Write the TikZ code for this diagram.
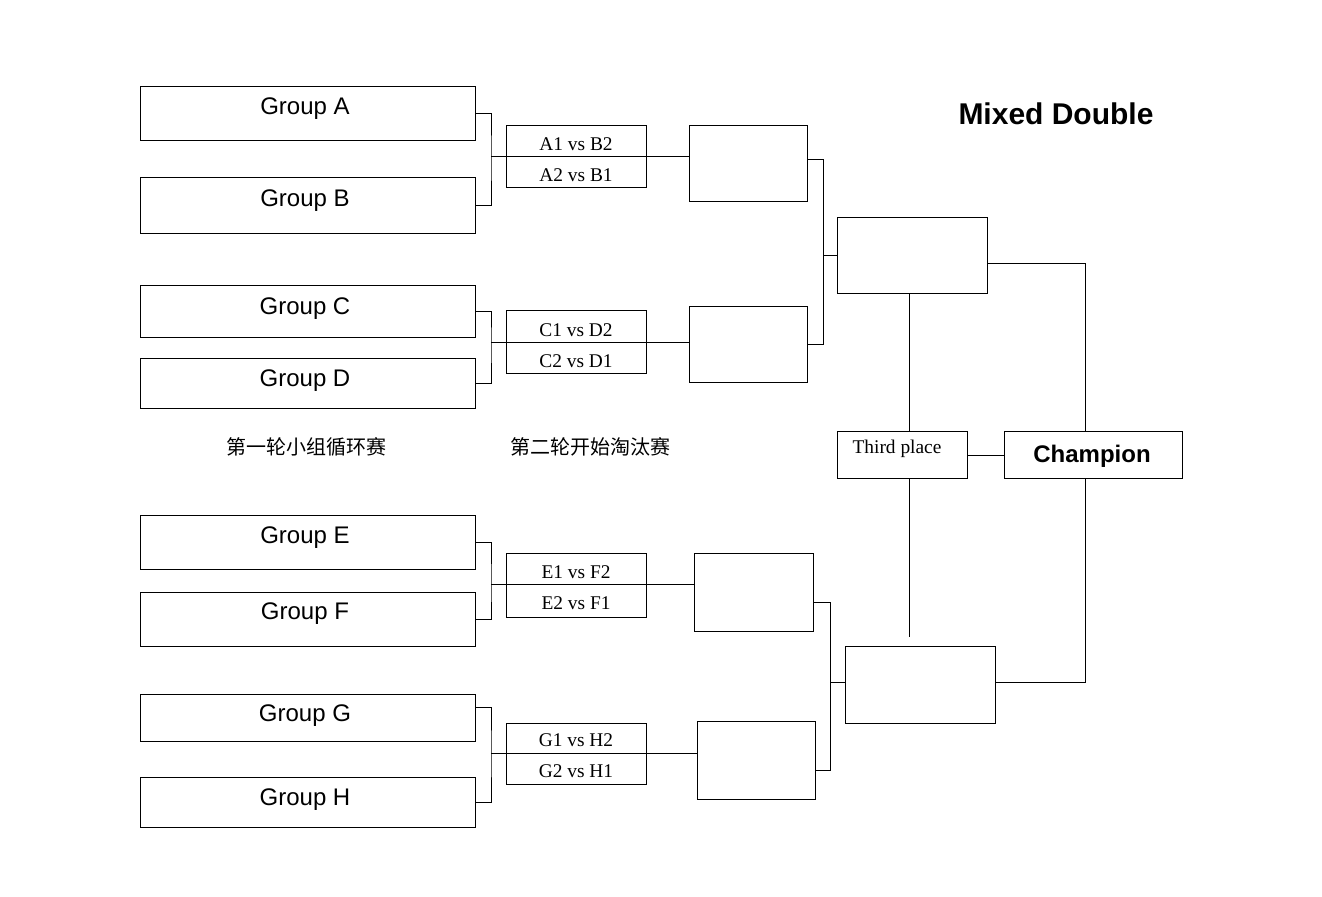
\documentclass[tikz,border=0pt]{standalone}
\usepackage{fontspec}
\setmainfont{Liberation Serif}
\setsansfont{Liberation Sans}
\newfontfamily\cjk{Noto Sans CJK SC}
\usetikzlibrary{fit}
\tikzset{
  box/.style={draw, inner sep=0pt},
  grptxt/.style={font=\sffamily\fontsize{12}{14}\selectfont, inner sep=0pt},
  matchtxt/.style={font=\fontsize{9.7}{11}\selectfont, inner sep=0pt},
  cntxt/.style={font=\cjk\fontsize{10}{12}\selectfont, inner sep=0pt},
}

\begin{document}
\begin{tikzpicture}[x=0.5pt, y=-0.5pt, line width=0.5pt]
    \useasboundingbox (0,0) rectangle (1322,897);

    % Round one: groups
    \foreach \g/\ya/\yb/\yt in {A/87/141/109, B/178/234/201, C/286/338/309, D/359/409/381,
                                E/516/570/538, F/592/646/614, G/694/741/716, H/777/827/800} {
        \node[box, fit={(140,\ya) (475,\yb)}] (g\g) {};
        \node[grptxt] (t\g) at (305,\yt) {Group \g};
    }

    % Round two: cross matches
    \foreach \p/\ya/\yb/\ym/\ta/\tb in {AB/126/188/157/{A1 vs B2}/{A2 vs B1},
                                        CD/311/374/343/{C1 vs D2}/{C2 vs D1},
                                        EF/554/617/585/{E1 vs F2}/{E2 vs F1},
                                        GH/723/784/753/{G1 vs H2}/{G2 vs H1}} {
        \node[box, fit={(506,\ya) (646,\yb)}] (m\p) {};
        \node[matchtxt] (u\p) at (576,\ym-13) {\ta};
        \node[matchtxt] (l\p) at (576,\ym+18) {\tb};
        \coordinate (b\p) at (491,\ym);
    }

    % Winners of round two
    \node[box, fit={(689,126) (807,202)}] (rAB) {};
    \node[box, fit={(689,307) (807,383)}] (rCD) {};
    \node[box, fit={(694,554) (813,631)}] (rEF) {};
    \node[box, fit={(697,721) (815,799)}] (rGH) {};

    % Semi finals and finals
    \node[box, fit={(837,218) (987,294)}] (sTop) {};
    \node[box, fit={(845,646) (995,723)}] (sBot) {};
    \node[box, fit={(837,432) (967,479)}] (third) {};
    \node[box, fit={(1004,432) (1182,479)}] (champ) {};

    % Brackets
    \draw (gA.east) -| (bAB) |- (gB.east);
    \draw (gC.east) -| (bCD) |- (gD.east);
    \draw (gE.east) -| (bEF) |- (gF.east);
    \draw ([yshift=5pt]gG.east) -| (bGH) |- (gH.east);
    \foreach \p in {AB, CD, EF, GH}
        \draw (b\p) -- (b\p -| r\p.west);

    \coordinate (bTop) at (823,256);
    \coordinate (bBot) at (830,682);
    \draw ([yshift=2pt]rAB.east) -| (bTop) |- (rCD.east);
    \draw (bTop) -- (bTop -| sTop.west);
    \draw ([yshift=-5pt]rEF.east) -| (bBot) |- ([yshift=-5pt]rGH.east);
    \draw (bBot) -- (bBot -| sBot.west);

    \draw ([yshift=-4pt]sTop.east) -| ([xshift=-4pt]champ.north);
    \draw ([yshift=1pt]sBot.east) -| ([xshift=-4pt]champ.south);
    \draw ([xshift=3.5pt]third.north) -- ([xshift=3.5pt]third.north |- sTop.south);
    \coordinate (tEnd) at (909,637);
    \draw (tEnd |- third.south) -- (tEnd);
    \draw (third.east) -- (champ.west);

    % Labels
    \node[matchtxt] (tThird) at (897,449) {Third place};
    \node[grptxt, font=\sffamily\bfseries\fontsize{12}{14}\selectfont] (tChamp) at (1092,456) {Champion};
    \node[grptxt, font=\sffamily\bfseries\fontsize{15}{18}\selectfont] (title) at (1056,114) {Mixed Double};
    \node[cntxt] (round1) at (306,447) {第一轮小组循环赛};
    \node[cntxt] (round2) at (590,447) {第二轮开始淘汰赛};
\end{tikzpicture}
\end{document}
